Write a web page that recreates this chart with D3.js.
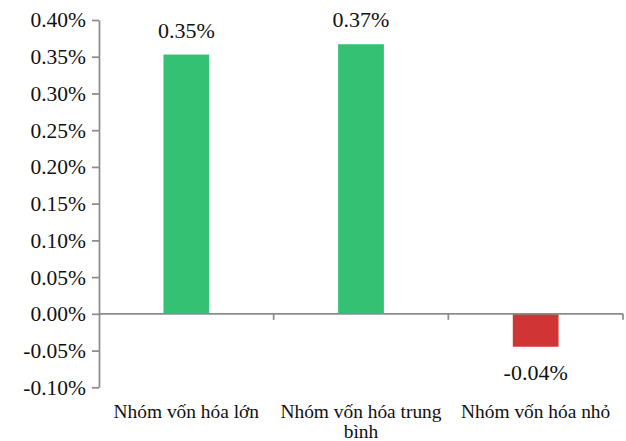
<!DOCTYPE html>
<html>
<head>
<meta charset="utf-8">
<script src="https://cdn.jsdelivr.net/npm/d3@7"></script>
<style>
  html, body { margin: 0; padding: 0; background: #fff; }
  svg { display: block; }
  text { font-family: "Liberation Serif", serif; fill: #111; }
</style>
</head>
<body>
<svg id="chart" width="626" height="441"></svg>
<script>
const categories = ["Nhóm vốn hóa lớn", "Nhóm vốn hóa trung bình", "Nhóm vốn hóa nhỏ"];
const values = [0.00353, 0.00367, -0.000448];
const barColors = ["#34C174", "#34C174", "#D03434"];
const yTicks = [-0.001, -0.0005, 0, 0.0005, 0.001, 0.0015, 0.002, 0.0025, 0.003, 0.0035, 0.004];

const locale = d3.formatLocale({decimal: ".", thousands: ",", grouping: [3], currency: ["", ""], minus: "-", percent: "%"});
const fmt = locale.format(".2%");

const svg = d3.select("#chart");
const plotLeft = 99, plotRight = 623, plotTop = 20, plotBottom = 387.3;
const axisColor = "#8c8c8c";
const fontFam = "Liberation Serif";

const y = d3.scaleLinear().domain([-0.001, 0.004]).range([plotBottom, plotTop]);
const x = d3.scaleBand().domain(categories).range([plotLeft, plotRight]).padding(0);
const barW = x.bandwidth() * 0.262;

// Y axis
const yAxis = d3.axisLeft(y).tickValues(yTicks).tickFormat(fmt).tickSizeInner(7).tickSizeOuter(0).tickPadding(6);
const gy = svg.append("g").attr("transform", `translate(${plotLeft},0)`).call(yAxis);
gy.select(".domain").attr("stroke", axisColor).attr("stroke-width", 1.75);
gy.selectAll(".tick line").attr("stroke", axisColor).attr("stroke-width", 1.75);
gy.selectAll(".tick text").attr("font-family", fontFam).attr("font-size", 21.5).attr("fill", "#111");

// Bars
svg.append("g").selectAll("rect").data(values).join("rect")
  .attr("x", (d, i) => x(categories[i]) + (x.bandwidth() - barW) / 2)
  .attr("width", barW)
  .attr("y", d => y(Math.max(0, d)))
  .attr("height", d => Math.abs(y(d) - y(0)))
  .attr("fill", (d, i) => barColors[i]);

// X axis (at zero)
const y0 = y(0);
const gx = svg.append("g");
gx.append("line").attr("x1", plotLeft).attr("x2", plotRight).attr("y1", y0).attr("y2", y0)
  .attr("stroke", axisColor).attr("stroke-width", 1.75);
const boundaries = categories.map(c => x(c) + x.bandwidth());
gx.selectAll("line.tk").data(boundaries).join("line").attr("class", "tk")
  .attr("x1", d => d).attr("x2", d => d).attr("y1", y0).attr("y2", y0 + 6)
  .attr("stroke", axisColor).attr("stroke-width", 1.75);

// Category labels with wrapping
const catG = svg.append("g");
categories.forEach(c => {
  const cx = x(c) + x.bandwidth() / 2;
  const t = catG.append("text")
    .attr("x", cx)
    .attr("y", 417.7)
    .attr("text-anchor", "middle")
    .attr("font-size", 19.4);
  const words = c.split(" ");
  let line = [];
  let tspan = t.append("tspan").attr("x", cx).attr("dy", 0);
  words.forEach(w => {
    line.push(w);
    tspan.text(line.join(" "));
    if (tspan.node().getComputedTextLength() > x.bandwidth() - 2 && line.length > 1) {
      line.pop();
      tspan.text(line.join(" "));
      line = [w];
      tspan = t.append("tspan").attr("x", cx).attr("dy", 20).text(w);
    }
  });
});

// Data labels
svg.append("g").selectAll("text").data(values).join("text")
  .attr("x", (d, i) => x(categories[i]) + x.bandwidth() / 2)
  .attr("y", d => d >= 0 ? y(d) - 17 : y(d) + 33)
  .attr("text-anchor", "middle")
  .attr("font-size", 22)
  .text(d => fmt(d));
</script>
</body>
</html>
